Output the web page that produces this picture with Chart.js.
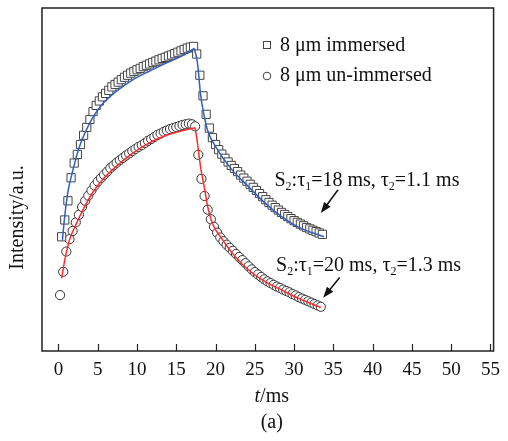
<!DOCTYPE html>
<html>
<head>
<meta charset="utf-8">
<script src="https://cdn.jsdelivr.net/npm/chart.js@4.4.1/dist/chart.umd.min.js"></script>
<style>
  html, body { margin: 0; padding: 0; background: #fff; }
  #wrap { width: 508px; height: 441px; }
</style>
</head>
<body>
<div id="wrap"><canvas id="decayChart" width="508" height="441"></canvas></div>
<script>
// x tick labels (ms)
const xTicks = [0, 5, 10, 15, 20, 25, 30, 35, 40, 45, 50, 55];

// 8 um immersed (squares)
const immersedT = [0.4, 0.8, 1.2, 1.6, 2.0, 2.4, 2.8, 3.2, 3.6, 4.0, 4.4, 4.8, 5.2, 5.6, 6.0, 6.4, 6.8, 7.2, 7.6, 8.0,
  8.4, 8.8, 9.2, 9.6, 10.0, 10.4, 10.8, 11.2, 11.6, 12.0, 12.4, 12.8, 13.2, 13.6, 14.0, 14.4, 14.8, 15.2, 15.6, 16.0,
  16.4, 16.8, 17.2, 17.6, 18.0, 18.4, 18.8, 19.2, 19.6, 20.0, 20.4, 20.8, 21.2, 21.6, 22.0, 22.4, 22.8, 23.2, 23.6, 24.0,
  24.4, 24.8, 25.2, 25.6, 26.0, 26.4, 26.8, 27.2, 27.6, 28.0, 28.4, 28.8, 29.2, 29.6, 30.0, 30.4, 30.8, 31.2, 31.6, 32.0,
  32.4, 32.8, 33.2, 33.6];
const immersedY = [33.3, 38.2, 43.8, 50.5, 54.8, 57.3, 60.2, 62.9, 65.2, 67.5, 69.8, 71.6, 72.9, 74.1, 75.1, 76.0, 77.0, 77.7, 78.4, 79.1,
  79.8, 80.4, 81.0, 81.5, 82.0, 82.4, 82.9, 83.3, 83.7, 84.1, 84.5, 84.9, 85.3, 85.6, 86.0, 86.3, 86.7, 87.1, 87.5, 87.9,
  88.3, 88.6, 88.8, 86.6, 80.4, 74.4, 69.0, 65.0, 62.2, 60.2, 58.7, 57.4, 56.2, 55.1, 54.1, 53.2, 52.3, 51.3, 50.4, 49.5,
  48.6, 47.7, 46.8, 45.9, 45.0, 44.1, 43.3, 42.5, 41.8, 41.1, 40.4, 39.8, 39.2, 38.6, 38.0, 37.5, 37.0, 36.5, 36.0, 35.6,
  35.2, 34.8, 34.4, 34.0];

// 8 um un-immersed (circles)
const unimmersedT = [0.2, 0.6, 1.0, 1.4, 1.8, 2.2, 2.6, 3.0, 3.4, 3.8, 4.2, 4.6, 5.0, 5.4, 5.8, 6.2, 6.6, 7.0, 7.4, 7.8,
  8.2, 8.6, 9.0, 9.4, 9.8, 10.2, 10.6, 11.0, 11.4, 11.8, 12.2, 12.6, 13.0, 13.4, 13.8, 14.2, 14.6, 15.0, 15.4, 15.8,
  16.2, 16.6, 17.0, 17.4, 17.8, 18.2, 18.6, 19.0, 19.4, 19.8, 20.2, 20.6, 21.0, 21.4, 21.8, 22.2, 22.6, 23.0, 23.4, 23.8,
  24.2, 24.6, 25.0, 25.4, 25.8, 26.2, 26.6, 27.0, 27.4, 27.8, 28.2, 28.6, 29.0, 29.4, 29.8, 30.2, 30.6, 31.0, 31.4, 31.8,
  32.2, 32.6, 33.0, 33.4];
const unimmersedY = [16.3, 23.1, 29.0, 32.6, 35.0, 37.5, 39.7, 42.0, 43.8, 45.3, 46.8, 48.2, 49.4, 50.4, 51.4, 52.3, 53.3, 54.1, 54.9, 55.6,
  56.3, 57.0, 57.6, 58.3, 58.9, 59.5, 60.0, 60.6, 61.3, 61.8, 62.4, 63.0, 63.4, 63.9, 64.3, 64.7, 65.0, 65.3, 65.6, 65.9,
  66.1, 66.3, 66.1, 65.5, 57.2, 50.2, 45.2, 41.2, 38.4, 36.2, 34.5, 33.1, 32.0, 31.0, 30.1, 29.2, 28.3, 27.4, 26.5, 25.6,
  24.7, 23.8, 23.0, 22.3, 21.6, 20.9, 20.3, 19.8, 19.3, 18.8, 18.4, 17.9, 17.5, 17.1, 16.6, 16.2, 15.7, 15.3, 14.9, 14.5,
  14.1, 13.7, 13.3, 12.9];

// fitted curves (blue: immersed, red: un-immersed), rise and decay parts
const blueRiseT = [0.5, 0.8, 1.2, 1.8, 2.5, 3.0, 3.5, 4.3, 5.6, 7.3, 9.4, 11.5, 13.5, 15.6, 17.3];
const blueRiseY = [32.4, 39.4, 46.4, 52.4, 58.4, 61.6, 64.2, 67.8, 72.0, 75.6, 79.0, 81.5, 83.7, 85.9, 88.2];
const blueDecayT = [17.3, 17.7, 18.1, 18.6, 19.0, 20.0, 22.1, 24.2, 26.3, 28.4, 30.5, 33.8];
const blueDecayY = [88.2, 83.9, 74.6, 68.0, 64.2, 59.6, 52.8, 47.9, 43.1, 39.2, 36.2, 33.3];
const redRiseT = [0.4, 0.8, 1.4, 2.3, 3.1, 4.3, 5.6, 7.3, 9.4, 11.5, 13.5, 15.6, 17.4];
const redRiseY = [21.2, 26.5, 32.4, 37.2, 41.1, 46.0, 49.9, 53.7, 57.6, 60.6, 62.7, 64.1, 65.1];
const redDecayT = [17.4, 17.7, 18.1, 18.6, 19.0, 19.6, 20.9, 22.5, 24.2, 26.3, 28.4, 30.5, 33.4];
const redDecayY = [65.1, 60.5, 53.5, 47.3, 42.1, 37.2, 32.4, 27.5, 23.6, 20.2, 17.8, 15.4, 12.7];

const seriesNames = ['8 \u03bcm immersed', '8 \u03bcm un-immersed'];

// annotation anchors in data units: [textX, textBaselineY, arrowFromX, arrowFromY, arrowToX, arrowToY]
const noteImmersed = [27.5, 48.1, 35.6, 47.0, 33.4, 40.2];
const noteUnimmersed = [27.7, 23.2, 35.8, 21.4, 33.7, 15.5];
const noteImmersedText = [['S', 0], ['2', 1], [':\u03c4', 0], ['1', 1], ['=18 ms, \u03c4', 0], ['2', 1], ['=1.1 ms', 0]];
const noteUnimmersedText = [['S', 0], ['2', 1], [':\u03c4', 0], ['1', 1], ['=20 ms, \u03c4', 0], ['2', 1], ['=1.3 ms', 0]];

const FONT = 'Liberation Serif, Times New Roman, serif';

function pts(ts, ys) {
  return ts.map((t, i) => ({ x: t, y: ys[i] }));
}

function fitLine(ts, ys, color) {
  return {
    data: pts(ts, ys),
    showLine: true,
    borderColor: color,
    borderWidth: 1.5,
    pointRadius: 0,
    cubicInterpolationMode: 'monotone',
    order: 0
  };
}

function drawRich(ctx, x, y, parts) {
  let cx = x;
  parts.forEach(p => {
    ctx.font = p[1] ? '12px ' + FONT : '20px ' + FONT;
    ctx.fillText(p[0], cx, p[1] ? y + 4 : y);
    cx += ctx.measureText(p[0]).width;
  });
}

function drawArrow(ctx, x1, y1, x2, y2) {
  const ang = Math.atan2(y2 - y1, x2 - x1);
  const head = 11;
  ctx.beginPath();
  ctx.moveTo(x1, y1);
  ctx.lineTo(x2 - Math.cos(ang) * head * 0.8, y2 - Math.sin(ang) * head * 0.8);
  ctx.lineWidth = 1.5;
  ctx.stroke();
  ctx.beginPath();
  ctx.moveTo(x2, y2);
  ctx.lineTo(x2 - head * Math.cos(ang) + 4 * Math.sin(ang), y2 - head * Math.sin(ang) - 4 * Math.cos(ang));
  ctx.lineTo(x2 - head * Math.cos(ang) - 4 * Math.sin(ang), y2 - head * Math.sin(ang) + 4 * Math.cos(ang));
  ctx.closePath();
  ctx.fill();
}

const decorPlugin = {
  id: 'decor',
  afterDraw(chart) {
    const { ctx, chartArea: a, scales } = chart;
    const xs = scales.x, ys = scales.y;
    ctx.save();
    // frame
    ctx.strokeStyle = '#222';
    ctx.lineWidth = 1.5;
    ctx.strokeRect(a.left, a.top, a.right - a.left, a.bottom - a.top);
    // inward ticks on bottom axis
    ctx.lineWidth = 1.2;
    xTicks.forEach(v => {
      const px = Math.round(xs.getPixelForValue(v)) + 0.5;
      ctx.beginPath();
      ctx.moveTo(px, a.bottom);
      ctx.lineTo(px, a.bottom - 7);
      ctx.stroke();
    });

    ctx.fillStyle = '#111';
    ctx.strokeStyle = '#111';
    ctx.textBaseline = 'middle';
    // x title: italic t + /ms
    ctx.font = 'italic 20px ' + FONT;
    const wT = ctx.measureText('t').width;
    ctx.font = '20px ' + FONT;
    const wRest = ctx.measureText('/ms').width;
    const cx = (a.left + a.right) / 2 + 4;
    ctx.font = 'italic 20px ' + FONT;
    ctx.textAlign = 'left';
    ctx.fillText('t', cx - (wT + wRest) / 2, 397);
    ctx.font = '20px ' + FONT;
    ctx.fillText('/ms', cx - (wT + wRest) / 2 + wT, 397);
    // panel label
    ctx.textAlign = 'center';
    ctx.fillText('(a)', cx, 423);
    // y title
    ctx.save();
    ctx.translate(18, (a.top + a.bottom) / 2 + 38);
    ctx.rotate(-Math.PI / 2);
    ctx.fillText('Intensity/a.u.', 0, 0);
    ctx.restore();

    // legend
    ctx.textAlign = 'left';
    ctx.strokeStyle = '#444';
    ctx.lineWidth = 1;
    ctx.strokeRect(263.5, 41.5, 7, 7);
    ctx.beginPath();
    ctx.arc(267, 76, 3.8, 0, Math.PI * 2);
    ctx.stroke();
    ctx.fillStyle = '#111';
    ctx.font = '20px ' + FONT;
    ctx.fillText(seriesNames[0], 280, 46);
    ctx.fillText(seriesNames[1], 280, 76);

    // annotations
    ctx.textBaseline = 'alphabetic';
    ctx.strokeStyle = '#111';
    [[noteImmersed, noteImmersedText], [noteUnimmersed, noteUnimmersedText]].forEach(([n, txt]) => {
      drawRich(ctx, xs.getPixelForValue(n[0]), ys.getPixelForValue(n[1]), txt);
      drawArrow(ctx, xs.getPixelForValue(n[2]), ys.getPixelForValue(n[3]),
        xs.getPixelForValue(n[4]), ys.getPixelForValue(n[5]));
    });
    ctx.restore();
  }
};

const ctx = document.getElementById('decayChart').getContext('2d');
const chart = new Chart(ctx, {
  type: 'scatter',
  data: {
    datasets: [
      fitLine(blueRiseT, blueRiseY, '#2f5fc4'),
      fitLine(blueDecayT, blueDecayY, '#2f5fc4'),
      fitLine(redRiseT, redRiseY, '#ff2a2a'),
      fitLine(redDecayT, redDecayY, '#ff2a2a'),
      {
        label: seriesNames[0],
        data: pts(immersedT, immersedY),
        pointStyle: 'rect',
        pointRadius: 5.8,
        borderColor: '#444',
        backgroundColor: '#fff',
        borderWidth: 1,
        order: 1
      },
      {
        label: seriesNames[1],
        data: pts(unimmersedT, unimmersedY),
        pointStyle: 'circle',
        pointRadius: 4.6,
        borderColor: '#333',
        backgroundColor: '#fff',
        borderWidth: 1,
        order: 1
      }
    ]
  },
  options: {
    responsive: false,
    animation: false,
    layout: { padding: { top: 8, right: 8, left: 0, bottom: 0 } },
    plugins: {
      legend: { display: false },
      tooltip: { enabled: false }
    },
    scales: {
      x: {
        type: 'linear',
        min: -2.1,
        max: 55.4,
        grid: { display: false, drawTicks: false },
        border: { display: false },
        afterBuildTicks: s => { s.ticks = xTicks.map(v => ({ value: v })); },
        afterFit: s => { s.height = 90; },
        ticks: {
          color: '#111',
          padding: 8,
          maxRotation: 0,
          autoSkip: false,
          font: { family: FONT, size: 19 }
        }
      },
      y: {
        min: 0,
        max: 100,
        grid: { display: false, drawTicks: false },
        border: { display: false },
        ticks: { display: false },
        afterFit: s => { s.width = 42; }
      }
    }
  },
  plugins: [decorPlugin]
});
</script>
</body>
</html>
